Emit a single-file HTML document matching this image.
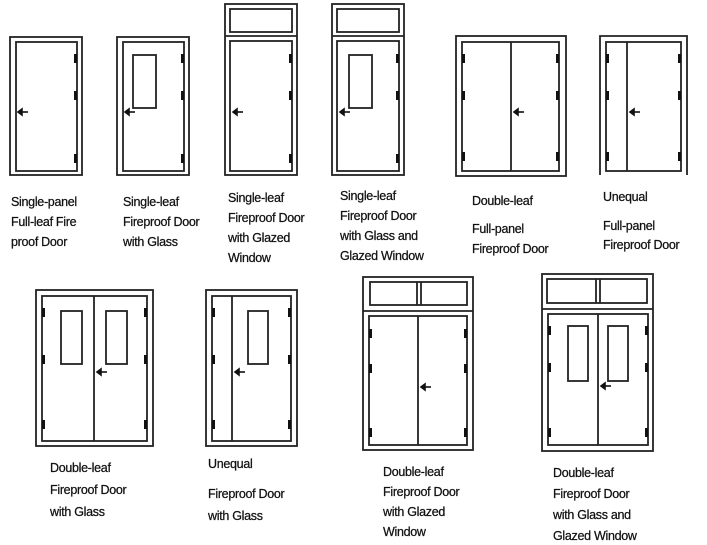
<!DOCTYPE html>
<html><head><meta charset="utf-8"><style>
html,body{margin:0;padding:0;background:#fff;}
svg{display:block}
text{font-family:"Liberation Sans",sans-serif;font-size:12.5px;fill:#111;stroke:#111;stroke-width:0.25px;letter-spacing:-0.3px}
</style></head><body>
<svg width="707" height="545" viewBox="0 0 707 545" xmlns="http://www.w3.org/2000/svg">
<g fill="none" stroke="#222" stroke-width="1.8">
<rect x="10" y="37" width="72" height="138"/><rect x="16" y="42" width="61" height="129"/>
<rect x="117" y="37" width="72" height="138"/><rect x="123" y="42" width="61" height="129"/>
<rect x="133" y="55" width="23" height="53"/>
<rect x="225" y="4" width="72" height="171"/><rect x="230" y="9" width="62" height="23"/>
<line x1="225" y1="36" x2="297" y2="36"/><rect x="230" y="41" width="62" height="130"/>
<rect x="332" y="4" width="72" height="171"/><rect x="337" y="9" width="62" height="23"/>
<line x1="332" y1="36" x2="404" y2="36"/><rect x="337" y="41" width="62" height="130"/>
<rect x="349" y="55" width="23" height="53"/>
<rect x="456" y="36" width="110" height="140"/><rect x="462" y="42" width="97" height="129"/>
<line x1="511" y1="42" x2="511" y2="171"/>
<path d="M600 175 V36 H687 V175"/><rect x="606" y="42" width="75" height="129"/>
<line x1="627" y1="42" x2="627" y2="171"/>
<rect x="36" y="290" width="117" height="156"/><rect x="42" y="296" width="105" height="145"/>
<line x1="94" y1="296" x2="94" y2="441"/>
<rect x="61" y="311" width="21" height="53"/><rect x="106" y="311" width="21" height="53"/>
<rect x="206" y="290" width="91" height="156"/><rect x="212" y="296" width="79" height="145"/>
<line x1="232" y1="296" x2="232" y2="441"/>
<rect x="248" y="311" width="20" height="53"/>
<rect x="363" y="277" width="110" height="173"/><rect x="370" y="282" width="97" height="23"/>
<line x1="417" y1="282" x2="417" y2="305"/><line x1="421" y1="282" x2="421" y2="305"/>
<line x1="363" y1="311" x2="473" y2="311"/><rect x="369" y="316" width="98" height="129"/>
<line x1="418" y1="316" x2="418" y2="445"/>
<rect x="542" y="274" width="111" height="177"/><rect x="547" y="279" width="100" height="24"/>
<line x1="596" y1="279" x2="596" y2="303"/><line x1="600" y1="279" x2="600" y2="303"/>
<line x1="542" y1="309" x2="653" y2="309"/><rect x="548" y="314" width="100" height="131"/>
<line x1="598" y1="314" x2="598" y2="445"/>
<rect x="568" y="326" width="20" height="55"/><rect x="608" y="326" width="20" height="55"/>
</g>
<g fill="#111">
<rect x="74" y="54" width="3" height="9"/><rect x="74" y="91" width="3" height="9"/><rect x="74" y="154" width="3" height="9"/>
<rect x="181" y="54" width="3" height="9"/><rect x="181" y="91" width="3" height="9"/><rect x="181" y="154" width="3" height="9"/>
<rect x="289" y="54" width="3" height="9"/><rect x="289" y="91" width="3" height="9"/><rect x="289" y="154" width="3" height="9"/>
<rect x="396" y="54" width="3" height="9"/><rect x="396" y="91" width="3" height="9"/><rect x="396" y="154" width="3" height="9"/>
<rect x="462" y="54" width="3" height="9"/><rect x="462" y="91" width="3" height="9"/><rect x="462" y="152" width="3" height="9"/>
<rect x="556" y="54" width="3" height="9"/><rect x="556" y="91" width="3" height="9"/><rect x="556" y="152" width="3" height="9"/>
<rect x="606" y="54" width="3" height="9"/><rect x="606" y="91" width="3" height="9"/><rect x="606" y="152" width="3" height="9"/>
<rect x="678" y="54" width="3" height="9"/><rect x="678" y="91" width="3" height="9"/><rect x="678" y="152" width="3" height="9"/>
<rect x="42" y="308" width="3" height="9"/><rect x="42" y="355" width="3" height="9"/><rect x="42" y="420" width="3" height="9"/>
<rect x="144" y="308" width="3" height="9"/><rect x="144" y="355" width="3" height="9"/><rect x="144" y="420" width="3" height="9"/>
<rect x="212" y="308" width="3" height="9"/><rect x="212" y="355" width="3" height="9"/><rect x="212" y="420" width="3" height="9"/>
<rect x="288" y="308" width="3" height="9"/><rect x="288" y="355" width="3" height="9"/><rect x="288" y="420" width="3" height="9"/>
<rect x="369" y="329" width="3" height="9"/><rect x="369" y="364" width="3" height="9"/><rect x="369" y="428" width="3" height="9"/>
<rect x="464" y="329" width="3" height="9"/><rect x="464" y="364" width="3" height="9"/><rect x="464" y="428" width="3" height="9"/>
<rect x="548" y="326" width="3" height="9"/><rect x="548" y="363" width="3" height="9"/><rect x="548" y="428" width="3" height="9"/>
<rect x="645" y="326" width="3" height="9"/><rect x="645" y="363" width="3" height="9"/><rect x="645" y="428" width="3" height="9"/>
</g>
<g stroke="#111" stroke-width="1.6" fill="#111">
<line x1="20" y1="112" x2="28" y2="112"/><path d="M18 112 l4 -3 v6z"/>
<line x1="127" y1="112" x2="135" y2="112"/><path d="M125 112 l4 -3 v6z"/>
<line x1="235" y1="112" x2="243" y2="112"/><path d="M233 112 l4 -3 v6z"/>
<line x1="342" y1="112" x2="350" y2="112"/><path d="M340 112 l4 -3 v6z"/>
<line x1="516" y1="112" x2="524" y2="112"/><path d="M514 112 l4 -3 v6z"/>
<line x1="632" y1="112" x2="640" y2="112"/><path d="M630 112 l4 -3 v6z"/>
<line x1="99" y1="372" x2="107" y2="372"/><path d="M97 372 l4 -3 v6z"/>
<line x1="237" y1="372" x2="245" y2="372"/><path d="M235 372 l4 -3 v6z"/>
<line x1="423" y1="387" x2="431" y2="387"/><path d="M421 387 l4 -3 v6z"/>
<line x1="603" y1="386" x2="611" y2="386"/><path d="M601 386 l4 -3 v6z"/>
</g>
<text x="11" y="206">Single-panel</text><text x="11" y="226">Full-leaf Fire</text><text x="11" y="246">proof Door</text>
<text x="123" y="206">Single-leaf</text><text x="123" y="226">Fireproof Door</text><text x="123" y="246">with Glass</text>
<text x="228" y="202">Single-leaf</text><text x="228" y="222">Fireproof Door</text><text x="228" y="242">with Glazed</text><text x="228" y="262">Window</text>
<text x="340" y="200">Single-leaf</text><text x="340" y="220">Fireproof Door</text><text x="340" y="240">with Glass and</text><text x="340" y="260">Glazed Window</text>
<text x="472" y="205">Double-leaf</text><text x="472" y="233">Full-panel</text><text x="472" y="253">Fireproof Door</text>
<text x="603" y="201">Unequal</text><text x="603" y="230">Full-panel</text><text x="603" y="249">Fireproof Door</text>
<text x="50" y="472">Double-leaf</text><text x="50" y="494">Fireproof Door</text><text x="50" y="516">with Glass</text>
<text x="208" y="468">Unequal</text><text x="208" y="498">Fireproof Door</text><text x="208" y="520">with Glass</text>
<text x="383" y="476">Double-leaf</text><text x="383" y="496">Fireproof Door</text><text x="383" y="516">with Glazed</text><text x="383" y="536">Window</text>
<text x="553" y="477">Double-leaf</text><text x="553" y="498">Fireproof Door</text><text x="553" y="519">with Glass and</text><text x="553" y="540">Glazed Window</text>
</svg>
</body></html>
